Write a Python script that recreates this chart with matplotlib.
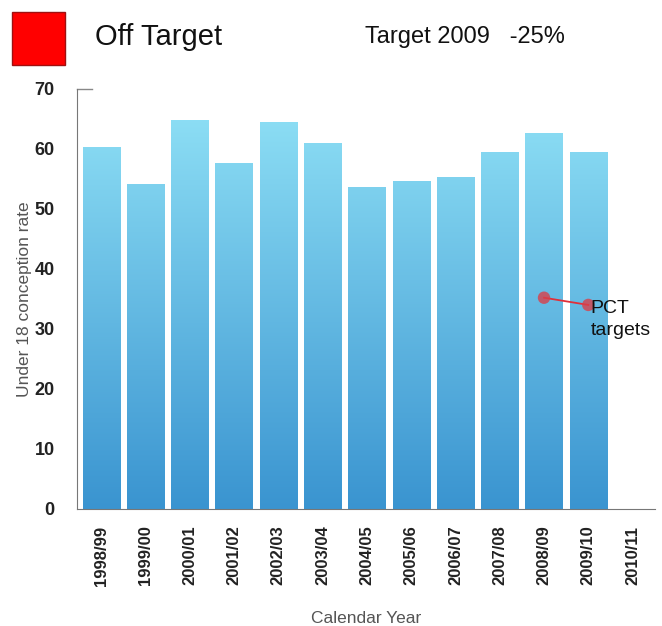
import numpy as np
import matplotlib.pyplot as plt
from matplotlib.colors import LinearSegmentedColormap

plt.rcParams['font.family'] = ['Liberation Sans', 'DejaVu Sans']

years = ['1998/99', '1999/00', '2000/01', '2001/02', '2002/03', '2003/04', '2004/05',
         '2005/06', '2006/07', '2007/08', '2008/09', '2009/10', '2010/11']
rates = [60.3, 54.2, 64.8, 57.6, 64.5, 61.0, 53.6, 54.6, 55.4, 59.5, 62.6, 59.5, 0]
target_years = ['2008/09', '2009/10']
targets = [35.2, 34.0]

fig = plt.figure(figsize=(6.62, 6.26), dpi=100)
ax = fig.add_axes([0.116, 0.187, 0.873, 0.671])

x = np.arange(len(years))
bars = ax.bar(x, rates, width=0.84, color='none', edgecolor='none')

# vertical gradient fill, light cyan at the top to deeper blue at the bottom
cmap = LinearSegmentedColormap.from_list('bluegrad', ['#3a94d0', '#92e3f7'])
grad = np.linspace(0, 1, 256).reshape(-1, 1)
for b in bars:
    h = b.get_height()
    if h <= 0:
        continue
    im = ax.imshow(grad, cmap=cmap, origin='lower', aspect='auto',
                   extent=[b.get_x(), b.get_x() + b.get_width(), 0, 70], zorder=2)
    im.set_clip_path(b)

tx = [years.index(y) for y in target_years]
ax.plot(tx, targets, color='#e0303a', lw=1.3, zorder=3)
ax.scatter(tx, targets, s=80, color='#d9404a', alpha=0.8, zorder=4, edgecolors='none')
ax.text(tx[1] + 0.05, 31.6, 'PCT\ntargets', fontsize=14, color='#111111',
        va='center', ha='left', linespacing=1.35, zorder=5)

ax.set_xlim(-0.55, len(years) - 0.5)
ax.set_ylim(0, 70)
ax.set_yticks(range(0, 71, 10))
ax.set_xticks(x)
ax.set_xticklabels(years, rotation=90, fontsize=12, fontweight='bold', color='#222222')
ax.tick_params(axis='y', labelsize=13, colors='#222222', length=0, pad=16)
ax.tick_params(axis='x', length=0, pad=12)
for lab in ax.get_yticklabels():
    lab.set_fontweight('bold')
ax.plot([-0.55, -0.2], [70, 70], color='#888888', lw=1, clip_on=False)

for s in ['top', 'right']:
    ax.spines[s].set_visible(False)
ax.spines['left'].set_color('#777777')
ax.spines['bottom'].set_color('#777777')

ax.set_ylabel('Under 18 conception rate', fontsize=12.5, color='#555555', labelpad=2)
ax.set_xlabel('Calendar Year', fontsize=12.5, color='#555555', labelpad=18)

fig.patches.append(plt.Rectangle((12 / 662, 1 - 65 / 626), 53 / 662, 53 / 626,
                                 transform=fig.transFigure, facecolor='#ff0000',
                                 edgecolor='#a01010', lw=1))
fig.text(95 / 662, 1 - 37 / 626, 'Off Target', fontsize=21, va='center', color='#111111')
fig.text(365 / 662, 1 - 37 / 626, 'Target 2009   -25%', fontsize=17, va='center', color='#111111')

fig.savefig('out.png', dpi=100)
